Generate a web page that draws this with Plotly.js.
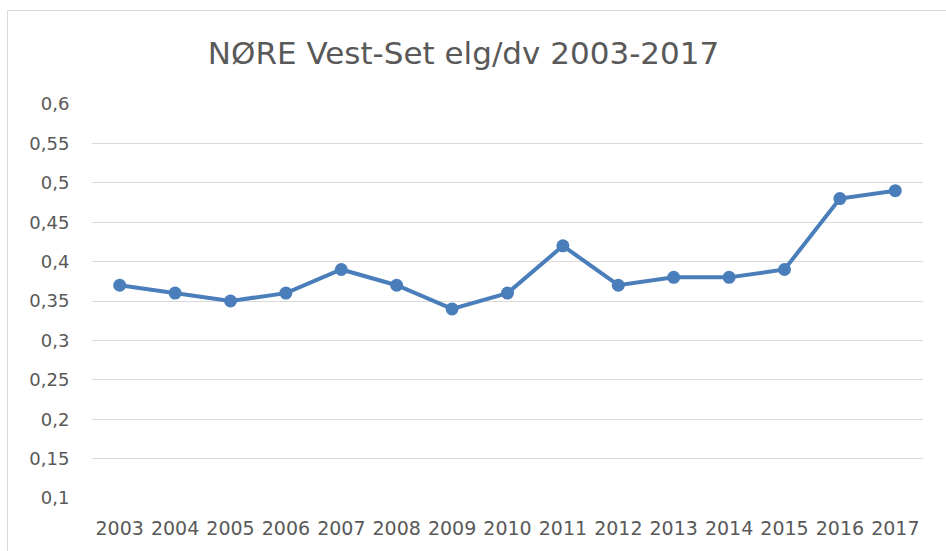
<!DOCTYPE html>
<html><head><meta charset="utf-8">
<script src="https://cdn.plot.ly/plotly-3.0.1.min.js"></script>
<style>
body{margin:0;padding:0;background:#fff;}
#frame{position:absolute;left:7px;top:10px;width:1000px;height:600px;border:1px solid #d9d9d9;box-sizing:border-box;}
#chart{position:absolute;left:0;top:0;width:946px;height:551px;}
</style></head>
<body>
<div id="frame"></div>
<div id="chart"></div>
<script>
const years = ['2003','2004','2005','2006','2007','2008','2009','2010','2011','2012','2013','2014','2015','2016','2017'];
const values = [0.37,0.36,0.35,0.36,0.39,0.37,0.34,0.36,0.42,0.37,0.38,0.38,0.39,0.48,0.49];
const yTicks = [0.1,0.15,0.2,0.25,0.3,0.35,0.4,0.45,0.5,0.55,0.6];
const yTickText = ['0,1','0,15','0,2','0,25','0,3','0,35','0,4','0,45','0,5','0,55','0,6'];

const FONT = 'DejaVu Sans, Open Sans, sans-serif';
const trace = {
  x: years, y: values, type:'scatter', mode:'lines+markers',
  line:{color:'#4a7ebb', width:4},
  marker:{color:'#4a7ebb', size:13},
  hoverinfo:'none'
};
const layout = {
  width:946, height:551,
  paper_bgcolor:'rgba(0,0,0,0)', plot_bgcolor:'rgba(0,0,0,0)',
  margin:{l:92, r:23, t:104, b:53},
  showlegend:false,
  font:{family:FONT, color:'#595959', size:18},
  title:{text:'NØRE Vest-Set elg/dv 2003-2017', x:0.49, xanchor:'center', xref:'container', y:0.904, yref:'container', yanchor:'middle',
         font:{size:31, color:'#595959', family:FONT}},
  xaxis:{type:'category', range:[-0.5,14.5], showgrid:false, zeroline:false, showline:false,
         ticks:'outside', ticklen:13, tickcolor:'rgba(0,0,0,0)', tickfont:{size:19, color:'#595959', family:FONT}},
  yaxis:{range:[0.1,0.6], tickvals:yTicks, ticktext:yTickText, showgrid:true, gridcolor:'#d9d9d9', gridwidth:1,
         zeroline:false, showline:false, ticks:'outside', ticklen:18, tickcolor:'rgba(0,0,0,0)',
         tickfont:{size:18, color:'#595959', family:FONT}}
};
Plotly.newPlot('chart',[trace],layout,{staticPlot:true});
</script>
</body></html>
